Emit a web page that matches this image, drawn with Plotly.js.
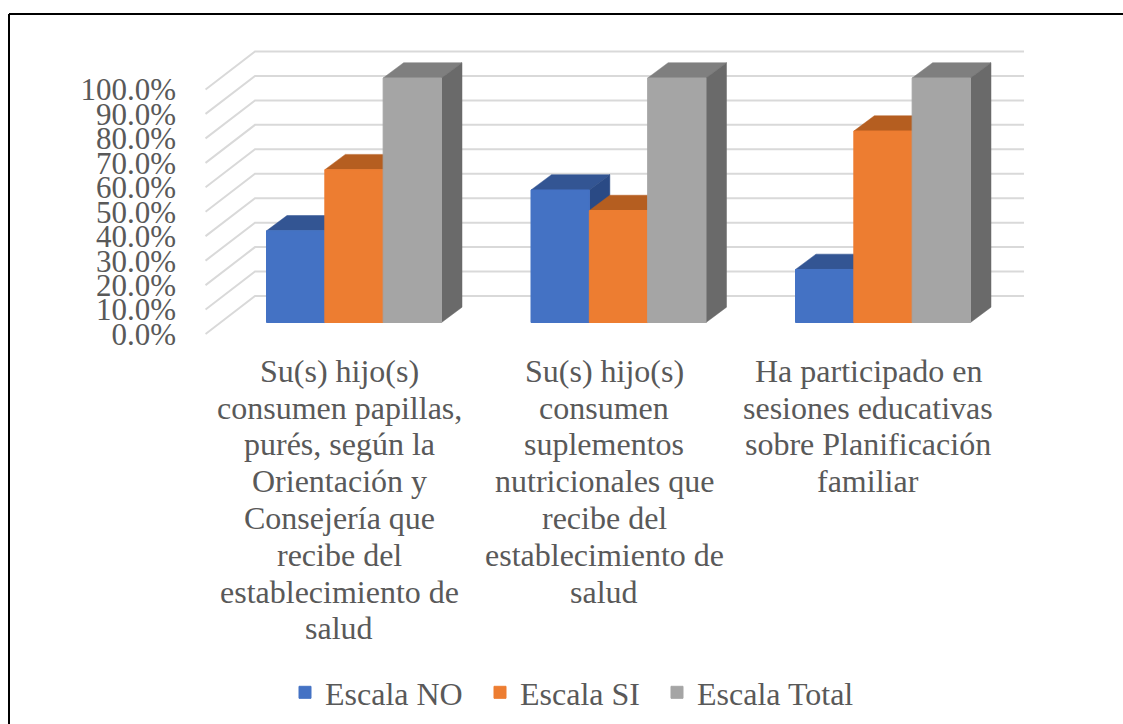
<!DOCTYPE html>
<html>
<head>
<meta charset="utf-8">
<script src="https://cdn.plot.ly/plotly-3.0.1.min.js"></script>
<style>html,body{margin:0;padding:0;background:#fff}</style>
</head>
<body>
<div id="chart" style="width:1123px;height:724px"></div>
<script>
// ---- data ----
const categoryLines = [
  ["Su(s) hijo(s)", "consumen papillas,", "purés, según la", "Orientación y", "Consejería que", "recibe del", "establecimiento de", "salud"],
  ["Su(s) hijo(s)", "consumen", "suplementos", "nutricionales que", "recibe del", "establecimiento de", "salud"],
  ["Ha participado en", "sesiones educativas", "sobre Planificación", "familiar"]
];
const groupIndex = [0, 1, 2];
const seriesNames = ["Escala NO", "Escala SI", "Escala Total"];
const escalaNO = [37.5, 54.2, 21.7];
const escalaSI = [62.5, 45.8, 78.3];
const escalaTotal = [100, 100, 100];
const tickValues = [0, 10, 20, 30, 40, 50, 60, 70, 80, 90, 100];
const tickLabels = ["0.0%", "10.0%", "20.0%", "30.0%", "40.0%", "50.0%", "60.0%", "70.0%", "80.0%", "90.0%", "100.0%"];
const frontColors = ["#4472C4", "#ED7D31", "#A5A5A5"];
const topColors = ["#335593", "#B55E20", "#7F7F7F"];
const sideColors = ["#2A4A85", "#9E5220", "#6A6A6A"];
const lineStarts = [371, 407.5, 444, 481, 518, 555, 591.5, 628];
const legendTextStarts = [326, 521, 698];
const labelCenters = [339, 604, 868];

// ---- geometry of the pseudo-3D projection ----
const W = 1123, H = 724, L = 205, R = 1024, T = 40, B = 340;
const pxPerGroup = 264.5, groupCenter0 = 354, barPx = 58.33;
const pxPerPct = 2.445;
const wallZeroPx = 334, barZeroPx = 322.5;
const barDepthX = 20.5 / pxPerGroup, barDepthY = 15.3 / pxPerPct;
const wallDepthX = 50 / pxPerGroup, wallDepthY = 38 / pxPerPct;
const barW = barPx / pxPerGroup;
const xRange = [(L - groupCenter0) / pxPerGroup, (R - groupCenter0) / pxPerGroup];
const wallXFront = xRange[0], wallXEnd = xRange[1];
const yRangeFor = z => [(z - B) / pxPerPct, (z - T) / pxPerPct];
const paperY = py => (B - py) / (B - T);
const paperX = px => (px - L) / (R - L);

const allSeries = [escalaNO, escalaSI, escalaTotal];
const traces = [];

// wall gridlines (main axes)
const gx = [], gy = [];
tickValues.forEach(v => {
  gx.push(wallXFront + 0.002, wallXFront + wallDepthX, wallXEnd, null);
  gy.push(v, v + wallDepthY, v + wallDepthY, null);
});
traces.push({type: "scatter", mode: "lines", x: gx, y: gy, xaxis: "x", yaxis: "y",
  line: {color: "#D9D9D9", width: 2}, showlegend: false, hoverinfo: "skip"});

// depth faces (below the front faces)
allSeries.forEach((vals, k) => {
  const tx = [], ty = [], sx = [], sy = [];
  vals.forEach((v, i) => {
    const xl = groupIndex[i] + (k - 1.5) * barW, xr = xl + barW;
    tx.push(xl, xr, xr + barDepthX, xl + barDepthX, xl, null);
    ty.push(v, v, v + barDepthY, v + barDepthY, v, null);
    sx.push(xr, xr + barDepthX, xr + barDepthX, xr, xr, null);
    sy.push(0, barDepthY, v + barDepthY, v, 0, null);
  });
  traces.push({type: "scatter", mode: "lines", x: tx, y: ty, xaxis: "x", yaxis: "y2", fill: "toself",
    fillcolor: topColors[k], line: {color: topColors[k], width: 0.5}, showlegend: false, hoverinfo: "skip"});
  traces.push({type: "scatter", mode: "lines", x: sx, y: sy, xaxis: "x", yaxis: "y2", fill: "toself",
    fillcolor: sideColors[k], line: {color: sideColors[k], width: 0.5}, showlegend: false, hoverinfo: "skip"});
});

// front faces: real bars, one legend per series so each entry sits where the reference has it
const legendKeys = ["legend", "legend2", "legend3"];
allSeries.forEach((vals, k) => {
  traces.push({type: "bar", name: seriesNames[k], x: groupIndex, y: vals, xaxis: "x", yaxis: "y3",
    legend: legendKeys[k],
    marker: {color: frontColors[k], line: {color: frontColors[k], width: 1}}});
});

const serif = "'Liberation Serif', 'Times New Roman', serif";
const annotations = [];
categoryLines.forEach((lines, i) => {
  lines.forEach((text, j) => {
    annotations.push({xref: "paper", yref: "paper", x: paperX(labelCenters[i]), y: paperY(lineStarts[j]),
      text: text, showarrow: false, xanchor: "center", yanchor: "middle",
      font: {family: serif, size: 32, color: "#595959"}});
  });
});

const layout = {
  width: W, height: H,
  margin: {l: L, r: W - R, t: T, b: H - B, pad: 0, autoexpand: false},
  paper_bgcolor: "#fff", plot_bgcolor: "rgba(0,0,0,0)",
  barmode: "group", bargap: 1 - 3 * barW, bargroupgap: 0,
  xaxis: {range: xRange, showgrid: false, zeroline: false, showline: false, showticklabels: false, ticks: ""},
  yaxis: {range: yRangeFor(wallZeroPx), tickmode: "array", tickvals: tickValues, ticktext: tickLabels,
    showgrid: false, zeroline: false, showline: false, ticks: "", ticklabelstandoff: 28,
    tickfont: {family: serif, size: 31, color: "#595959"}},
  yaxis2: {range: yRangeFor(barZeroPx), overlaying: "y", visible: false},
  yaxis3: {range: yRangeFor(barZeroPx), overlaying: "y", visible: false},
  showlegend: true,
  annotations: annotations,
  shapes: [
    {type: "line", xref: "paper", yref: "paper", x0: paperX(9), x1: paperX(1123), y0: paperY(14), y1: paperY(14),
      line: {color: "#000", width: 2}},
    {type: "line", xref: "paper", yref: "paper", x0: paperX(9), x1: paperX(9), y0: paperY(14), y1: paperY(724),
      line: {color: "#000", width: 2}}
  ]
};
legendKeys.forEach((key, k) => {
  layout[key] = {orientation: "h", x: paperX(legendTextStarts[k] - 41), xanchor: "left", y: paperY(692.5), yanchor: "middle",
    font: {family: serif, size: 32, color: "#595959"}, bgcolor: "rgba(0,0,0,0)"};
});
Plotly.newPlot("chart", traces, layout, {displayModeBar: false, staticPlot: true});
</script>
</body>
</html>
